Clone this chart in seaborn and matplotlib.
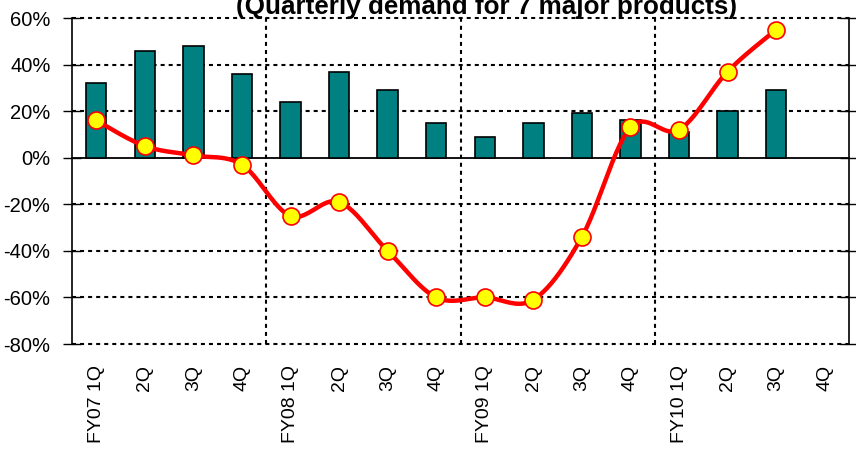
import numpy as np
import pandas as pd
import matplotlib
matplotlib.use("Agg")
import matplotlib.pyplot as plt
import seaborn as sns

# quarters (unique keys) and what is printed under the axis
periods = ["FY07 1Q", "FY07 2Q", "FY07 3Q", "FY07 4Q",
           "FY08 1Q", "FY08 2Q", "FY08 3Q", "FY08 4Q",
           "FY09 1Q", "FY09 2Q", "FY09 3Q", "FY09 4Q",
           "FY10 1Q", "FY10 2Q", "FY10 3Q", "FY10 4Q"]
tick_labels = ["FY07 1Q", "2Q", "3Q", "4Q",
               "FY08 1Q", "2Q", "3Q", "4Q",
               "FY09 1Q", "2Q", "3Q", "4Q",
               "FY10 1Q", "2Q", "3Q", "4Q"]

# bars (%), last quarter has no data
bar_values = [32, 46, 48, 36, 24, 37, 29, 15, 9, 15, 19, 16, 11, 20, 29, np.nan]
# line (% YoY), last quarter has no data
line_values = [16, 5, 1, -3, -25, -19, -40, -60, -60, -61, -34, 13, 12, 37, 55, np.nan]

y_ticks = [60, 40, 20, 0, -20, -40, -60, -80]
title = "(Quarterly demand for 7 major products)"

sns.set_style("white")
plt.rcParams["font.family"] = ["Liberation Sans", "DejaVu Sans"]
plt.rcParams["lines.scale_dashes"] = False
plt.rcParams["text.color"] = "black"
plt.rcParams["xtick.color"] = "black"
plt.rcParams["ytick.color"] = "black"

df = pd.DataFrame({"period": periods, "bar": bar_values, "line": line_values})
df["pos"] = np.arange(len(df))

fig = plt.figure(figsize=(8.56, 4.54), dpi=100)
ax = fig.add_axes([72 / 856, 1 - 344 / 454, (849 - 72) / 856, (344 - 18) / 454])

sns.barplot(data=df.dropna(subset=["bar"]), x="period", y="bar", order=periods,
            color="#008080", saturation=1, edgecolor="black", linewidth=1.2,
            width=0.42, ax=ax, zorder=3)

# Excel-style smoothed line through the points (Catmull-Rom / Bezier)
pts = df.dropna(subset=["line"])[["pos", "line"]].to_numpy(dtype=float)
ext = np.vstack([pts[0], pts, pts[-1]])
t = np.linspace(0, 1, 25)[:, None]
curve = []
for i in range(len(pts) - 1):
    p0, p1, p2, p3 = ext[i], ext[i + 1], ext[i + 2], ext[i + 3]
    c1 = p1 + (p2 - p0) / 6
    c2 = p2 - (p3 - p1) / 6
    seg = ((1 - t) ** 3) * p1 + 3 * ((1 - t) ** 2) * t * c1 + 3 * (1 - t) * t ** 2 * c2 + t ** 3 * p2
    curve.append(seg)
curve = np.vstack(curve)
ax.plot(curve[:, 0], curve[:, 1], color="#FF0000", lw=3.2, zorder=4, solid_capstyle="round")
sns.scatterplot(data=df.dropna(subset=["line"]), x="pos", y="line", ax=ax,
                color="#FFFF00", edgecolor="#FF0000", linewidth=1.2, s=150,
                zorder=5, legend=False)

# grid
for v in y_ticks:
    if v == 0:
        ax.axhline(v, color="black", lw=1.3, zorder=2, clip_on=False)
    else:
        ax.axhline(v, color="black", lw=1.5, ls=(0, (2.9, 2.9)), zorder=1, clip_on=False)
for xb in [3.5, 7.5, 11.5]:
    ax.axvline(xb, color="black", lw=1.5, ls=(0, (2.9, 2.9)), zorder=1)

ax.set_xlim(-0.5, 15.5)
ax.set_ylim(-80, 60)
ax.set_yticks(y_ticks)
ax.set_yticklabels([f"{v}%" for v in y_ticks], fontsize=14.5, color="black")
ax.set_xticks(range(len(periods)))
ax.set_xticklabels(tick_labels, rotation=90, fontsize=14, color="black")
ax.tick_params(axis="x", length=0, pad=15)
ax.tick_params(axis="y", direction="inout", length=13, width=1, left=True, right=True, pad=9)
ax.set_xlabel("")
ax.set_ylabel("")
for s in ["top", "bottom"]:
    ax.spines[s].set_visible(False)
for s in ["left", "right"]:
    ax.spines[s].set_visible(True)
    ax.spines[s].set_color("black")
    ax.spines[s].set_linewidth(1.2)

fig.text(487 / 856, 1 - 14 / 454, title, ha="center", va="baseline",
         fontsize=18.7, fontweight="bold", color="black")

fig.savefig("out.png", dpi=100)
